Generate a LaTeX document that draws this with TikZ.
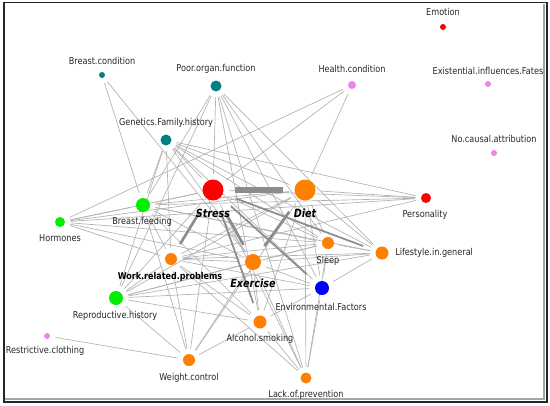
\documentclass[tikz,border=0pt]{standalone}
\usepackage{fontspec}
\setmainfont{DejaVu Sans}[FakeStretch=0.86]
\usetikzlibrary{backgrounds}

\definecolor{cRed}{RGB}{255,0,0}
\definecolor{cOrange}{RGB}{255,128,0}
\definecolor{cTeal}{RGB}{0,128,128}
\definecolor{cGreen}{RGB}{0,238,0}
\definecolor{cBlue}{RGB}{0,0,255}
\definecolor{cPink}{RGB}{238,130,238}
\definecolor{cEdge}{RGB}{178,178,178}
\definecolor{cHeavy}{RGB}{140,140,140}

\tikzset{
	dot/.style={circle, inner sep=0pt, minimum size=#1*1.5pt},
	lbl/.style={font=\fontsize{7.1}{8}\selectfont, text=black!85, inner sep=0pt},
	keylbl/.style={font=\fontsize{8.4}{10}\selectfont\bfseries\itshape, inner sep=0pt},
	worklbl/.style={font=\fontsize{7}{8}\selectfont\bfseries, inner sep=0pt},
	link/.style={draw=cEdge, line width=0.5pt, shorten <=4pt, shorten >=4pt},
	midlink/.style={draw=cHeavy, line width=1.3pt, shorten <=10pt, shorten >=10pt},
	heavylink/.style={draw=cHeavy, line width=2pt, shorten <=12pt, shorten >=8.5pt},
	barlink/.style={draw=cHeavy, line width=4pt, shorten <=8.6pt, shorten >=8.6pt},
}

\begin{document}
\begin{tikzpicture}[x=0.75pt, y=-0.75pt]
			%%%%% START %%%%%
			\useasboundingbox (0,0) rectangle (550,405);
			
			\draw[line width=0.8pt, black!35] (544,4) -- (544,399) -- (5,399);
			\draw[line width=1.2pt, black!85] (4,2.5) rectangle (547,402);
			
			% nodes
			\node[dot=10.5, fill=cRed] (stress) at (213,190) {};
			\node[dot=10.5, fill=cOrange] (diet) at (305,190) {};
			\node[dot=8, fill=cOrange] (exercise) at (253,262) {};
			\node[dot=6, fill=cOrange] (work) at (171,259) {};
			\node[dot=6, fill=cOrange] (sleep) at (328,243) {};
			\node[dot=6.5, fill=cOrange] (lifestyle) at (382,253) {};
			\node[dot=6.5, fill=cOrange] (alcohol) at (260,322) {};
			\node[dot=6, fill=cOrange] (weight) at (189,360) {};
			\node[dot=5.5, fill=cOrange] (lack) at (306,378) {};
			\node[dot=7, fill=cBlue] (env) at (322,288) {};
			\node[dot=5, fill=cRed] (personality) at (426,198) {};
			\node[dot=3, fill=cRed] (emotion) at (443,27) {};
			\node[dot=7, fill=cGreen] (bfeed) at (143,205) {};
			\node[dot=5, fill=cGreen] (hormones) at (60,222) {};
			\node[dot=7, fill=cGreen] (repro) at (116,298) {};
			\node[dot=3, fill=cTeal] (bcond) at (102,75) {};
			\node[dot=5.5, fill=cTeal] (poor) at (216,86) {};
			\node[dot=5.5, fill=cTeal] (genetics) at (166,140) {};
			\node[dot=4, fill=cPink] (health) at (352,85) {};
			\node[dot=3, fill=cPink] (exist) at (488,84) {};
			\node[dot=3, fill=cPink] (nocausal) at (494,153) {};
			\node[dot=3, fill=cPink] (restr) at (47,336) {};
			
			% labels
			\node[keylbl] (stress-l) at (213,213) {Stress};
			\node[keylbl] (diet-l) at (305,213) {Diet};
			\node[keylbl] (exercise-l) at (253,283) {Exercise};
			\node[worklbl] (work-l) at (170,277) {Work.related.problems};
			\node[lbl] (sleep-l) at (328,261) {Sleep};
			\node[lbl, anchor=west] (lifestyle-l) at (395,253) {Lifestyle.in.general};
			\node[lbl] (alcohol-l) at (260,339) {Alcohol.smoking};
			\node[lbl] (weight-l) at (189,378) {Weight.control};
			\node[lbl] (lack-l) at (306,395) {Lack.of.prevention};
			\node[lbl] (env-l) at (321,307) {Environmental.Factors};
			\node[lbl] (personality-l) at (425,215) {Personality};
			\node[lbl] (emotion-l) at (443,12) {Emotion};
			\node[lbl] (bfeed-l) at (142,222) {Breast.feeding};
			\node[lbl] (hormones-l) at (60,238) {Hormones};
			\node[lbl] (repro-l) at (115,316) {Reproductive.history};
			\node[lbl] (bcond-l) at (102,61) {Breast.condition};
			\node[lbl] (poor-l) at (216,69) {Poor.organ.function};
			\node[lbl] (genetics-l) at (166,123) {Genetics.Family.history};
			\node[lbl] (health-l) at (352,69) {Health.condition};
			\node[lbl] (exist-l) at (488,71) {Existential.influences.Fates};
			\node[lbl] (nocausal-l) at (494,139) {No.causal.attribution};
			\node[lbl] (restr-l) at (45,351) {Restrictive.clothing};
			
			% connectors
			\begin{scope}[on background layer]
			\draw[link] (bcond) -- (bfeed); \draw[link] (bcond) -- (exercise);
			
			\draw[link] (poor) -- (bfeed); \draw[link] (poor) -- (repro);
			\draw[link] (poor) -- (stress); \draw[link] (poor) -- (alcohol);
			\draw[link] (poor) -- (lack); \draw[link] (poor) -- (env);
			\draw[link] (poor) -- (sleep); \draw[link] (poor) -- (lifestyle);
			
			\draw[link] (genetics) -- (bfeed); \draw[link] (genetics) -- (repro);
			\draw[link] (genetics) -- (stress); \draw[link] (genetics) -- (diet);
			\draw[link] (genetics) -- (personality); \draw[link] (genetics) -- (lifestyle);
			\draw[link] (genetics) -- (sleep); \draw[link] (genetics) -- (env);
			\draw[link] (genetics) -- (exercise); \draw[link] (genetics) -- (work);
			
			\draw[link] (health) -- (hormones); \draw[link] (health) -- (stress);
			\draw[link] (health) -- (diet);
			
			\draw[link] (personality) -- (diet); \draw[link] (personality) -- (stress);
			\draw[link] (personality) -- (bfeed); \draw[link] (personality) -- (work);
			\draw[link] (personality) -- (hormones);
			
			\draw[link] (hormones) -- (stress); \draw[link] (hormones) -- (diet);
			\draw[link] (hormones) -- (exercise); \draw[link] (hormones) -- (work);
			\draw[link] (hormones) -- (sleep); \draw[link] (hormones) -- (bfeed);
			
			\draw[link] (bfeed) -- (stress); \draw[link] (bfeed) -- (diet);
			\draw[link] (bfeed) -- (work); \draw[link] (bfeed) -- (exercise);
			\draw[link] (bfeed) -- (weight); \draw[link] (bfeed) -- (alcohol);
			\draw[link] (bfeed) -- (sleep); \draw[link] (bfeed) -- (lifestyle);
			
			\draw[link] (repro) -- (work); \draw[link] (repro) -- (stress);
			\draw[link] (repro) -- (diet); \draw[link] (repro) -- (exercise);
			\draw[link] (repro) -- (sleep); \draw[link] (repro) -- (env);
			\draw[link] (repro) -- (alcohol); \draw[link] (repro) -- (weight);
			\draw[link] (repro) -- (lifestyle);
			
			\draw[link] (restr) -- (weight);
			
			\draw[link] (work) -- (diet); \draw[link] (work) -- (exercise);
			\draw[link] (work) -- (sleep); \draw[link] (work) -- (env);
			\draw[link] (work) -- (weight); \draw[link] (work) -- (lack);
			\draw[link] (work) -- (lifestyle); \draw[link] (work) -- (alcohol);
			
			\draw[link] (exercise) -- (sleep); \draw[link] (exercise) -- (env);
			\draw[link] (exercise) -- (alcohol); \draw[link] (exercise) -- (weight);
			\draw[link] (exercise) -- (lack); \draw[link] (exercise) -- (lifestyle);
			
			\draw[link] (diet) -- (sleep); \draw[link] (diet) -- (env);
			\draw[link] (diet) -- (alcohol); \draw[link] (diet) -- (lack);
			\draw[link] (diet) -- (weight); \draw[link] (diet) -- (lifestyle);
			
			\draw[link] (stress) -- (sleep); \draw[link] (stress) -- (weight);
			\draw[link] (stress) -- (lack);
			
			\draw[link] (sleep) -- (env); \draw[link] (sleep) -- (lifestyle);
			\draw[link] (sleep) -- (lack);
			\draw[link] (env) -- (lifestyle); \draw[link] (env) -- (lack);
			\draw[link] (env) -- (alcohol);
			\draw[link] (alcohol) -- (lack); \draw[link] (alcohol) -- (weight);
			
			\draw[midlink] (stress) -- (env);
			\draw[midlink] (stress) -- (alcohol);
			\draw[midlink] (stress) -- (lifestyle);
			
			\draw[heavylink] (stress) -- (work);
			\draw[heavylink] (stress) -- (exercise);
			\draw[heavylink] (diet) -- (exercise);
			\draw[barlink] (stress) -- (diet);
			\end{scope}
			
			%%%%% END %%%%%
\end{tikzpicture}
\end{document}
